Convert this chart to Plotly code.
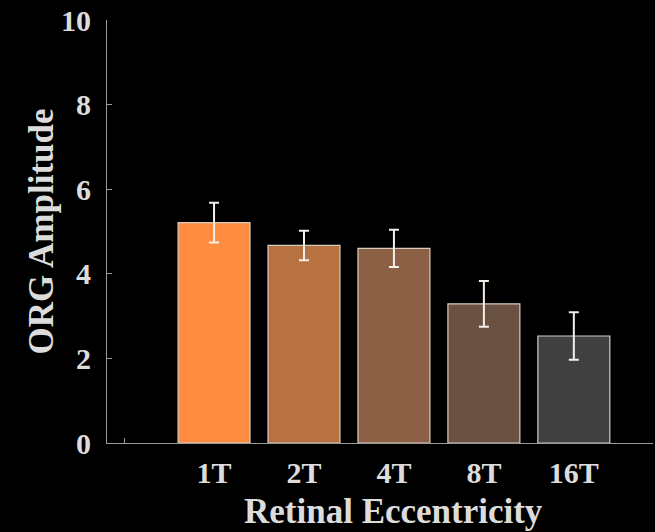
import plotly.graph_objects as go

categories = ["1T", "2T", "4T", "8T", "16T"]
amplitude = [5.21, 4.67, 4.60, 3.29, 2.53]
sem = [0.47, 0.35, 0.44, 0.54, 0.56]
bar_colors = ["#FF8C40", "#B87242", "#8C6045", "#6B5142", "#404040"]
y_ticks = [0, 2, 4, 6, 8, 10]

positions = list(range(1, len(categories) + 1))
font_family = "Liberation Serif, Times New Roman, serif"
text_color = "#DCDCDC"
axis_color = "#9A9A9A"

W, H = 655, 532
ML, MR, MT, MB = 107, 2, 20, 89
plot_w = W - ML - MR
plot_h = H - MT - MB

fig = go.Figure()
fig.add_trace(go.Bar(
    x=positions,
    y=amplitude,
    width=0.8,
    marker=dict(color=bar_colors, line=dict(color="#D8CCC0", width=1.2)),
    error_y=dict(type="data", array=sem, visible=True, color="#F4EEE8",
                 thickness=2, width=5),
    showlegend=False,
))

fig.update_layout(
    width=W, height=H,
    paper_bgcolor="black", plot_bgcolor="black",
    margin=dict(l=ML, r=MR, t=MT, b=MB),
    font=dict(family=font_family, color=text_color),
    bargap=0.2,
    xaxis=dict(
        range=[-0.19, 5.88],
        tickmode="array",
        tickvals=[0] + positions,
        ticktext=[""] + categories,
        ticks="inside", ticklen=5, tickcolor=axis_color, tickwidth=1,
        showline=True, linecolor=axis_color, linewidth=1,
        showgrid=False, zeroline=False,
        tickfont=dict(size=30, family=font_family, color=text_color, weight="bold"),
        ticklabelstandoff=3,
        layer="below traces",
    ),
    yaxis=dict(
        range=[0, 10],
        tickmode="array",
        tickvals=y_ticks,
        ticktext=[str(v) for v in y_ticks],
        ticks="inside", ticklen=5, tickcolor=axis_color, tickwidth=1,
        showline=True, linecolor=axis_color, linewidth=1,
        showgrid=False, zeroline=False,
        tickfont=dict(size=30, family=font_family, color=text_color, weight="bold"),
        ticklabelstandoff=9,
        layer="below traces",
    ),
    annotations=[
        dict(text="<b>Retinal Eccentricity</b>", x=3, xref="x",
             y=-69 / plot_h, yref="paper", xanchor="center", yanchor="middle",
             showarrow=False,
             font=dict(size=35, family=font_family, color=text_color)),
        dict(text="<b>ORG Amplitude</b>", x=-66 / plot_w, xref="paper",
             y=0.5, yref="paper", xanchor="center", yanchor="middle",
             textangle=-90, showarrow=False,
             font=dict(size=35, family=font_family, color=text_color)),
    ],
)

fig.write_html(
    "out.html",
    config={"displayModeBar": False},
    post_script=(
        "document.documentElement.style.background='black';"
        "document.body.style.margin='0';"
        "document.body.style.background='black';"
    ),
)
